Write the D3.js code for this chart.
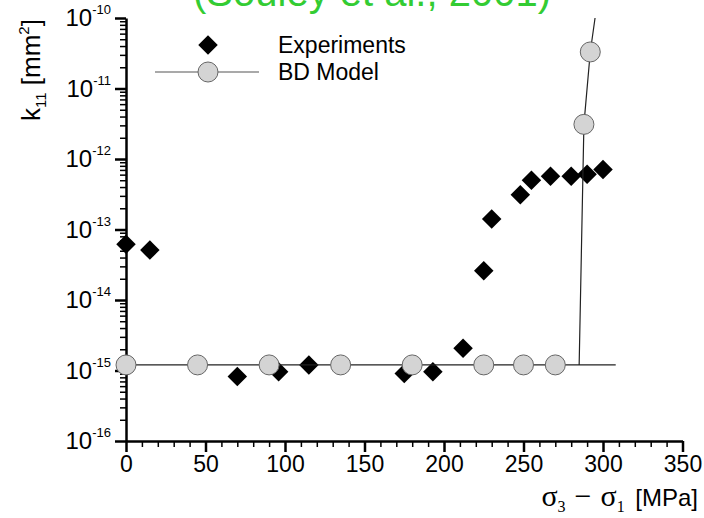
<!DOCTYPE html>
<html>
<head>
<meta charset="utf-8">
<script src="https://cdn.jsdelivr.net/npm/d3@7"></script>
<style>
body { margin: 0; background: #fff; }
svg { display: block; font-family: "Liberation Sans", Arial, sans-serif; }
</style>
</head>
<body>
<div id="chart_area"></div>
<script>
// experiments (diamonds)
var expStress = [0, 15, 70, 96, 115, 175, 193, 212, 225, 230, 248, 255, 267, 280, 290, 300];
var expK = [6.2e-14, 5.1e-14, 8.2e-16, 9.6e-16, 1.2e-15, 9.1e-16, 9.6e-16, 2.07e-15, 2.6e-14, 1.41e-13, 3.1e-13, 5.0e-13, 5.7e-13, 5.7e-13, 6.1e-13, 7.1e-13];

// BD model markers (circles)
var bdStress = [0, 45, 90, 135, 180, 225, 250, 270, 288, 292];
var bdK = [1.2e-15, 1.2e-15, 1.2e-15, 1.2e-15, 1.2e-15, 1.2e-15, 1.2e-15, 1.2e-15, 3.1e-12, 3.3e-11];

// BD model curve
var bdLineStress = [0, 308];
var bdLineK = [1.2e-15, 1.2e-15];
var bdBranchStress = [285, 288, 292, 295];
var bdBranchK = [1.2e-15, 3.1e-12, 3.3e-11, 1e-10];

// ticks
var xTicks = [0, 50, 100, 150, 200, 250, 300, 350];
var yExponents = [-16, -15, -14, -13, -12, -11, -10];

var sTitle = "(Souley et al., 2001)";
var sLegend = ["Experiments", "BD Model"];

//get the area
var sFrame = d3.select("#chart_area").append("svg")
	.attr("width", 704)
	.attr("height", 518);

//scales
var sX = d3.scaleLinear().domain([0, 350]).range([126, 682.5]);
var sY = d3.scaleLog().domain([1e-16, 1e-10]).range([441, 18]);

//minor ticks
var xMinor = d3.range(0, 351, 10).filter(function(d){ return d % 50 !== 0; });
var yMinor = [];
yExponents.slice(0, -1).forEach(function(e){
	for (var m = 2; m <= 9; m++) yMinor.push(m * Math.pow(10, e));
});

//x axis
var sXMinor = sFrame.append("g")
	.attr("transform", "translate(0," + sY(1e-16) + ")")
	.call(d3.axisBottom(sX).tickValues(xMinor).tickSize(6).tickSizeOuter(0).tickFormat(""));
sXMinor.select(".domain").remove();
sXMinor.selectAll("line").attr("stroke", "#000").attr("stroke-width", 1.5);

var sXAxis = sFrame.append("g")
	.attr("transform", "translate(0," + sY(1e-16) + ")")
	.call(d3.axisBottom(sX).tickValues(xTicks).tickSize(11).tickSizeOuter(0).tickPadding(4));
sXAxis.select(".domain").attr("stroke-width", 2.5);
sXAxis.selectAll("line").attr("stroke-width", 2.5);
sXAxis.selectAll("text")
	.attr("font-size", 23)
	.attr("font-family", "'Liberation Sans', Arial, sans-serif")
	.attr("fill", "#000");

//y axis
var sYMinor = sFrame.append("g")
	.attr("transform", "translate(" + sX(0) + ",0)")
	.call(d3.axisLeft(sY).tickValues(yMinor).tickSize(6).tickSizeOuter(0).tickFormat(""));
sYMinor.select(".domain").remove();
sYMinor.selectAll("line").attr("stroke", "#000").attr("stroke-width", 1.5);

var sYAxis = sFrame.append("g")
	.attr("transform", "translate(" + sX(0) + ",0)")
	.call(d3.axisLeft(sY).tickValues(yExponents.map(function(e){ return Math.pow(10, e); })).tickSize(11).tickSizeOuter(0).tickFormat(""));
sYAxis.select(".domain").attr("stroke-width", 2.5);
sYAxis.selectAll("line").attr("stroke-width", 2.5);

//y tick labels 10^n
var sYLabels = sFrame.append("g").selectAll("text")
	.data(yExponents)
	.enter().append("text")
	.attr("x", 111)
	.attr("y", function(d){ return sY(Math.pow(10, d)) + 8; })
	.attr("text-anchor", "end")
	.attr("font-size", 24);
sYLabels.append("tspan").text("10");
sYLabels.append("tspan")
	.attr("dy", -12)
	.attr("font-size", 13)
	.text(function(d){ return d; });

//axis titles
var sYTitle = sFrame.append("text")
	.attr("transform", "translate(40,70) rotate(-90)")
	.attr("text-anchor", "middle")
	.attr("font-size", 26);
sYTitle.append("tspan").text("k");
sYTitle.append("tspan").attr("dy", 6).attr("font-size", 15).text("11");
sYTitle.append("tspan").attr("dy", -6).text(" [mm");
sYTitle.append("tspan").attr("dy", -11).attr("font-size", 15).text("2");
sYTitle.append("tspan").attr("dy", 11).text("]");

var sXTitle = sFrame.append("text")
	.attr("x", 698)
	.attr("y", 506)
	.attr("text-anchor", "end")
	.attr("font-size", 24);
sXTitle.append("tspan").attr("font-family", "'Liberation Serif', serif").attr("font-size", 30).text("σ");
sXTitle.append("tspan").attr("font-family", "'Liberation Serif', serif").attr("font-size", 16).attr("dy", 6).text("3");
sXTitle.append("tspan").attr("font-family", "'Liberation Serif', serif").attr("font-size", 30).attr("dy", -6).attr("dx", 9).text("−");
sXTitle.append("tspan").attr("font-family", "'Liberation Serif', serif").attr("font-size", 30).attr("dx", 9).text("σ");
sXTitle.append("tspan").attr("font-family", "'Liberation Serif', serif").attr("font-size", 16).attr("dy", 6).text("1");
sXTitle.append("tspan").attr("dy", -6).attr("dx", 4).text(" [MPa]");

//green title, cut off at the top as in the source
sFrame.append("text")
	.attr("x", 372)
	.attr("y", 6)
	.attr("text-anchor", "middle")
	.attr("font-size", 40)
	.attr("fill", "#33cc33")
	.text(sTitle);

//experiments
var sDiamond = d3.symbol().type(d3.symbolSquare).size(190);
sFrame.append("g").selectAll("path")
	.data(expStress)
	.enter().append("path")
	.attr("d", sDiamond)
	.attr("transform", function(d, i){ return "translate(" + sX(d) + "," + sY(expK[i]) + ") rotate(45)"; })
	.attr("fill", "#000");

//model line
var sLine = d3.line()
	.x(function(d){ return sX(d[0]); })
	.y(function(d){ return sY(d[1]); });

sFrame.append("path")
	.attr("d", sLine(d3.zip(bdLineStress, bdLineK)))
	.attr("fill", "none")
	.attr("stroke", "#222")
	.attr("stroke-width", 1.2);
sFrame.append("path")
	.attr("d", sLine(d3.zip(bdBranchStress, bdBranchK)))
	.attr("fill", "none")
	.attr("stroke", "#222")
	.attr("stroke-width", 1.2);

//model circles
sFrame.append("g").selectAll("circle")
	.data(bdStress)
	.enter().append("circle")
	.attr("cx", function(d){ return sX(d); })
	.attr("cy", function(d, i){ return sY(bdK[i]); })
	.attr("r", 10)
	.attr("fill", "#d4d4d4")
	.attr("stroke", "#666")
	.attr("stroke-width", 1);

//legend
var sLegendG = sFrame.append("g");
sLegendG.append("path")
	.attr("d", sDiamond)
	.attr("transform", "translate(208,45) rotate(45)")
	.attr("fill", "#000");
sLegendG.append("line")
	.attr("x1", 155).attr("x2", 259)
	.attr("y1", 72).attr("y2", 72)
	.attr("stroke", "#555")
	.attr("stroke-width", 1.2);
sLegendG.append("circle")
	.attr("cx", 208).attr("cy", 72).attr("r", 10)
	.attr("fill", "#d4d4d4")
	.attr("stroke", "#666");
sLegendG.selectAll("text")
	.data(sLegend)
	.enter().append("text")
	.attr("x", 278)
	.attr("y", function(d, i){ return 53 + i * 27; })
	.attr("font-size", 23)
	.text(function(d){ return d; });
</script>
</body>
</html>
